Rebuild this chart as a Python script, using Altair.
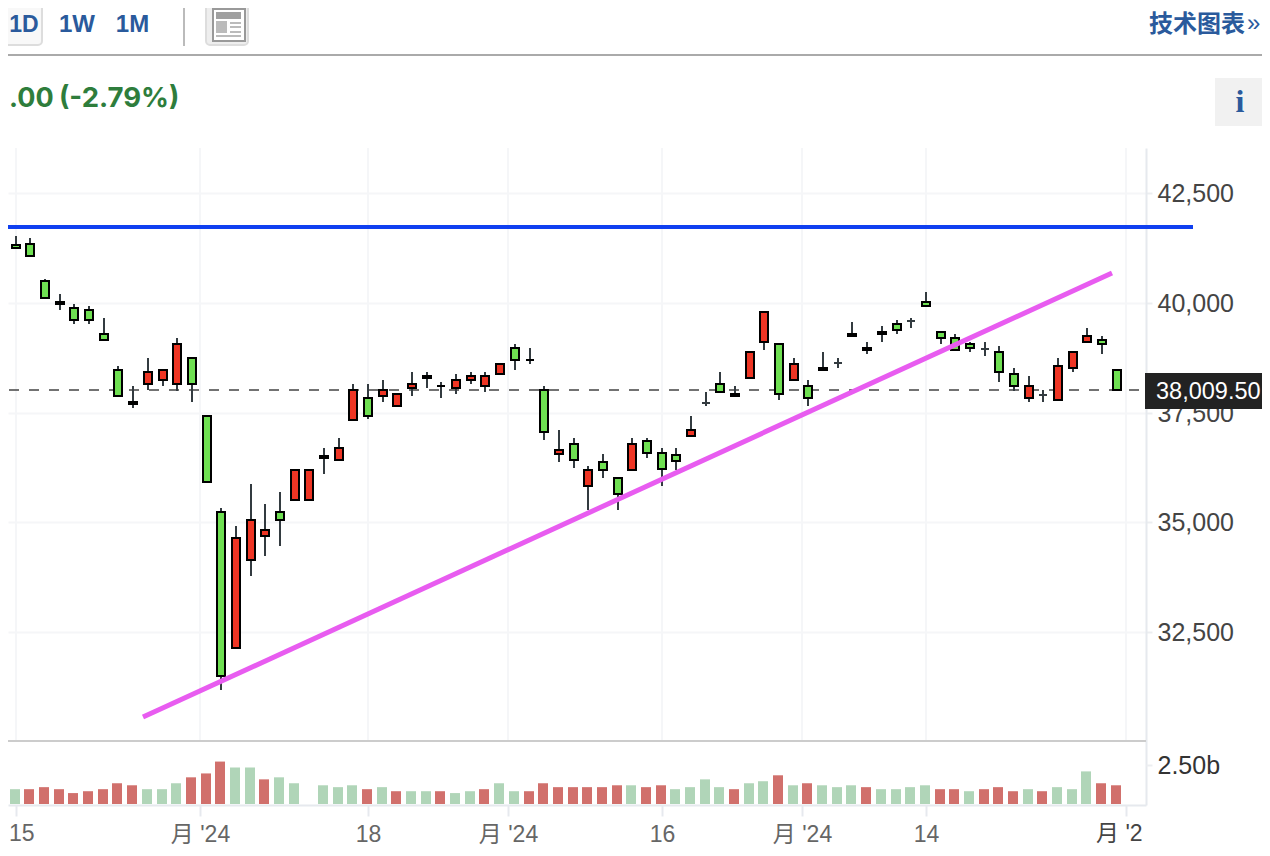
import json
import altair as alt
import pandas as pd

# one entry per trading day, index -1 .. 75
days = list(range(-1, 76))
highs = [41642,41528,41482,40547,40205,39977,39932,39658,38564,38108,38746,38472,39202,38746,37424,35326,34916,35873,35417,35691,36192,36192,36694,36922,38153,38153,38244,37925,38427,38427,38199,38381,38427,38427,38609,39065,38974,38108,37104,36922,36284,36557,36010,36922,36922,36694,36694,37424,37971,38427,38108,38883,39795,39065,38746,38244,38883,38746,39567,39111,39476,39612,39658,40251,39339,39293,39111,39111,39020,38518,38336,38016,38746,38883,39430,39248,38472]
body_tops = [41642,41322,41345,40502,40023,39886,39840,39293,38472,37743,38427,38472,39065,38746,37424,35235,34642,35052,34824,35235,36192,36192,36512,36694,38016,37834,38016,37925,38153,38336,38108,38244,38336,38336,38609,38974,38700,38016,36648,36785,36192,36375,36010,36785,36854,36580,36534,37104,37720,38153,37925,38883,39795,39065,38609,38108,38518,38632,39293,38974,39339,39521,39590,40023,39339,39202,39065,38951,38883,38381,38108,37902,38564,38883,39248,39156,38472]
body_bottoms = [41208,41254,41072,40114,39977,39612,39612,39156,37880,37697,38153,38244,38153,38153,35919,31496,32134,34140,34688,35052,35508,35508,36466,36420,37332,37424,37880,37652,38062,38290,38108,38062,38244,38108,38381,38700,38700,37059,36557,36420,35828,36192,35645,36192,36580,36215,36398,36968,37720,37971,37880,38290,39111,37925,38244,37834,38472,38632,39248,38928,39293,39384,39590,39932,39202,38928,38974,38951,38427,38108,37834,37902,37788,38518,39111,39065,38016]
lows = [41208,41254,41072,40114,39840,39521,39521,39156,37880,37606,38016,38108,37994,37743,35919,31176,32134,33776,34232,34460,35508,35508,36101,36420,37332,37355,37743,37652,37880,38062,37834,37925,38153,37971,38381,38472,38609,36876,36375,36238,35280,36010,35280,36192,36466,35828,36192,36968,37652,37971,37880,38290,38928,37788,38244,37652,38472,38518,39248,38837,39111,39293,39430,39932,39065,38928,38883,38792,38199,37994,37743,37743,37788,38427,39111,38837,38016]
kinds = "g g g g r g g g g g r r r g g g r r r g r r g r r g r r r r r r r r r g r g r g r g g r g g g r c g g r r g r g r c r g g g c g g g g c g g r c r r r g g".split()
volumes = [1.20,.95,.95,1.08,.95,.70,.82,.95,1.33,1.20,.95,.95,1.33,1.71,1.96,2.72,2.34,2.34,1.58,1.71,1.33,None,1.20,1.08,1.20,.95,1.08,.82,.82,.82,.82,.70,.82,.95,1.33,.82,.82,1.33,1.08,1.08,1.08,1.08,1.20,1.20,1.08,1.20,.95,1.08,1.58,1.08,.95,1.33,1.46,1.84,1.20,1.33,1.20,1.08,1.20,1.08,.95,.95,1.08,1.20,.95,.95,.82,.95,1.08,.82,.95,.82,1.08,.95,2.09,1.33,1.20]
vol_kinds = "r g r r r r r r r r g g g r r r g g r g g g g g g r g r g g r g g r g g r r r r r r r g r r g g g g r g g r g r g g g r g g g g r r g r r r g r g g g r r".split()

tick_days = [0, 12.55, 24, 33.55, 44, 53.55, 62, 75.65]
tick_labels = ["", "月 '24", "18", "月 '24", "16", "月 '24", "14", ""]
price_ticks = [32500, 35000, 37500, 40000, 42500]
volume_ticks = [2.5]
last_price = 38009.5
resistance_days, resistance_prices = [-2, 80.2], [41733, 41733]
trend_days, trend_prices = [8.67, 74.68], [30561, 40684]

candles = pd.DataFrame(dict(day=days, high=highs, top=body_tops, bottom=body_bottoms, low=lows, kind=kinds))
vols = pd.DataFrame(dict(day=days, vol=volumes, kind=vol_kinds))
one = pd.DataFrame({"a": [1]})

FONT = "Liberation Sans, Noto Sans CJK SC"
AXIS_LINE = "#e6e9ee"
GRID = "#f5f6f8"
BLUE = "#2a5a9c"

x_scale = alt.Scale(domain=[-0.5245, 76.995], round=True, nice=False, padding=0)
y_scale = alt.Scale(domain=[28554, 43534], round=True, nice=False, padding=0)
label_expr = ("[" + ",".join(json.dumps(s, ensure_ascii=False) for s in tick_labels) + "]"
              "[indexof(" + json.dumps(tick_days) + ",datum.value)]")
x_axis = alt.Axis(values=tick_days, labelExpr=label_expr, title=None, grid=False,
                  domainColor=AXIS_LINE, domainWidth=2, tickColor=AXIS_LINE, tickWidth=2, tickSize=11,
                  labelFont=FONT, labelFontSize=23, labelPadding=7, labelOverlap=False, labelBound=False, labelFlush=False,
                  labelColor={"condition": {"test": "indexof(datum.label,'月')>=0", "value": "#444444"}, "value": "#666666"})
x = alt.X("day:Q", scale=x_scale, axis=x_axis)
y_axis = alt.Axis(values=price_ticks, format=",d", orient="right", title=None, grid=True, gridColor=GRID, gridWidth=2,
                  domainColor=AXIS_LINE, domainWidth=2, tickColor="#eceef1", tickWidth=2, tickSize=6,
                  labelFont=FONT, labelFontSize=25, labelColor="#444444", labelPadding=5, labelOverlap=False, labelBound=False, labelFlush=False)
v_axis = alt.Axis(values=volume_ticks, labelExpr="'2.50b'", orient="right", title=None, grid=False, domain=False,
                  tickColor="#eceef1", tickWidth=2, tickSize=6,
                  labelFont=FONT, labelFontSize=25, labelColor="#333333", labelPadding=5, labelOverlap=False, labelBound=False, labelFlush=False)
y_plain = lambda f: alt.Y(f, scale=y_scale, axis=None)


def box(x1, y1, x2, y2, fill, **kw):
    return alt.Chart(one).mark_rect(fill=fill, **kw).encode(
        x=alt.value(x1 - 8), x2=alt.value(x2 - 8), y=alt.value(y1 - 148), y2=alt.value(y2 - 148))


def txt(s, px, py, size, color, align="left", weight="normal", font=FONT):
    return alt.Chart(one).mark_text(text=s, fontSize=size, color=color, align=align, baseline="middle",
                                    fontWeight=weight, font=font).encode(x=alt.value(px - 8), y=alt.value(py - 148))


grid_x = alt.Chart(pd.DataFrame({"day": tick_days})).mark_rule(color=GRID, strokeWidth=2).encode(
    x=x, y=alt.value(0), y2=alt.value(593))

price_axis_layer = alt.Chart(pd.DataFrame({"p": price_ticks})).mark_rule(opacity=0).encode(
    y=alt.Y("p:Q", scale=y_scale, axis=y_axis))

volume_bars = alt.Chart(vols).mark_bar(size=10, xOffset=-1).encode(
    x=x,
    y=alt.Y("vol:Q", scale=alt.Scale(domain=[0, 2.5], range=[656, 617]), axis=v_axis),
    color=alt.Color("kind:N", scale=alt.Scale(domain=["r", "g"], range=["#d1706c", "#b0d5b8"]), legend=None))

sep = alt.Chart(one).mark_rule(color="#cccccc", strokeWidth=2).encode(
    x=alt.value(0), x2=alt.value(1138), y=alt.value(593))

last_line = alt.Chart(pd.DataFrame({"p": [last_price]})).mark_rule(color="#444444", strokeWidth=1.6, strokeDash=[10, 10]).encode(
    x=alt.value(1), x2=alt.value(1132), y=y_plain("p:Q"))

wicks = alt.Chart(candles).mark_rule(color="#333b40", strokeWidth=2).encode(
    x=x, y=y_plain("high:Q"), y2="low:Q")

bodies = alt.Chart(candles).mark_bar(size=8, strokeWidth=2, orient="vertical").encode(
    x=x, y=y_plain("top:Q"), y2="bottom:Q",
    color=alt.Color("kind:N", scale=alt.Scale(domain=["g", "r", "c"], range=["#6fe052", "#ee3524", "#333b40"]), legend=None),
    stroke=alt.condition(alt.datum.kind == "c", alt.value("#333b40"), alt.value("#000000")))

blue_line = alt.Chart(pd.DataFrame({"day": resistance_days, "p": resistance_prices})).mark_line(color="#0f3ff0", strokeWidth=4).encode(
    x=x, y=y_plain("p:Q"))
pink_line = alt.Chart(pd.DataFrame({"day": trend_days, "p": trend_prices})).mark_line(color="#e85cf0", strokeWidth=5).encode(
    x=x, y=y_plain("p:Q"))

chrome = [
    box(-12, 3, 42, 45, "#f8f8f8", stroke="#dddddd", strokeWidth=2, cornerRadius=4),
    txt("1D", 24, 24.5, 23, BLUE, "center", "bold"),
    txt("1W", 77, 24.5, 24, BLUE, "center", "bold"),
    txt("1M", 132.5, 24.5, 24, BLUE, "center", "bold"),
    box(183, 2, 185, 46, "#bbbbbb"),
    box(206, 3, 248, 45, "#eeeeee", stroke="#dddddd", strokeWidth=2, cornerRadius=4),
    box(213, 9, 245, 41, "#ffffff", stroke="#999999", strokeWidth=2),
    box(216, 12, 241, 19, "#a0a0a0"),
    box(216, 21, 227, 33, "#bbbbbb"),
    box(230, 22, 241, 24, "#bbbbbb"),
    box(230, 26, 241, 28, "#bbbbbb"),
    box(230, 31, 241, 33, "#bbbbbb"),
    box(216, 35, 241, 37, "#bbbbbb"),
    box(0, 54, 1278, 56, "#aaaaaa"),
    txt(".00", 9, 99, 27, "#2e7d3c", "left", "bold", "Inter"),
    txt("(-2.79%)", 59, 99, 27.5, "#2e7d3c", "left", "bold", "Inter"),
    txt("技术图表", 1149, 25, 24, BLUE, "left", "bold"),
    txt("»", 1247, 24, 24, BLUE, "left", "normal"),
    box(1215, 78, 1263, 126, "#f1f1f1"),
    txt("i", 1240, 102, 32, BLUE, "center", "bold", "Liberation Serif"),
    txt("月 '2", 1096, 834, 23, "#444444"),
    txt("15", 9, 834, 23, "#666666"),
]

last_tag = [
    box(1145, 373, 1272, 409, "#222222"),
    txt("38,009.50", 1156, 392, 23.5, "#ffffff"),
]

chart = alt.layer(
    grid_x, price_axis_layer, volume_bars, sep, last_line, wicks, bodies, blue_line, pink_line, *last_tag, *chrome
).resolve_scale(y="independent", color="independent").properties(
    width=1138, height=657,
    background="#ffffff",
    padding={"left": 0, "top": 140, "right": 116, "bottom": 49},
    autosize=alt.AutoSizeParams(type="none"),
).configure_view(stroke=None)

chart.save("out.html", embed_options={"renderer": "svg", "actions": False})
